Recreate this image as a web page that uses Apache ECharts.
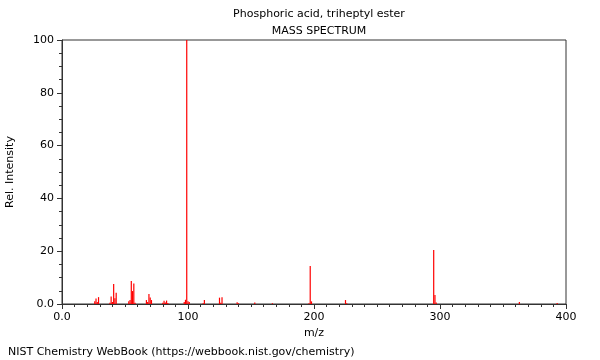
<!DOCTYPE html>
<html>
<head>
<meta charset="utf-8">
<script src="https://cdn.jsdelivr.net/npm/echarts@6/dist/echarts.min.js"></script>
<style>html,body{margin:0;padding:0;background:#fff}#c{width:600px;height:360px}</style>
</head>
<body>
<div id="c"></div>
<script>
const titleText = "Phosphoric acid, triheptyl ester";
const subtitleText = "MASS SPECTRUM";
const footerText = "NIST Chemistry WebBook (https://webbook.nist.gov/chemistry)";
const xName = "m/z";
const yName = "Rel. Intensity";
const mz = [26,27,28,29,38,39,40,41,42,43,53,54,55,56,57,58,67,68,69,70,71,80,81,82,83,84,97,98,99,100,101,112,113,125,126,127,139,140,153,167,196,197,198,225,226,295,296,297,363,393];
const intensity = [1.0,2.1,0.8,2.6,0.5,2.8,0.8,7.6,2.2,4.3,1.0,1.5,8.7,4.9,7.8,0.5,1.5,0.8,3.8,2.5,1.5,0.5,1.2,0.6,1.3,0.4,0.8,1.6,100,1.0,0.8,0.3,1.5,2.4,0.5,2.6,0.7,0.3,0.6,0.3,0.3,14.4,1.0,1.5,0.3,20.5,3.4,0.6,0.8,0.4];

const chart = echarts.init(document.getElementById('c'), null, {renderer:'canvas'});
const font = 'DejaVu Sans';
const axisCol = '#333';
chart.setOption({
  animation:false,
  textStyle:{fontFamily:font},
  title:[
    {text:titleText, left:314, top:4, textAlign:'center', textStyle:{fontSize:11, fontWeight:'normal', color:'#000', fontFamily:font}},
    {text:subtitleText, left:314, top:21, textAlign:'center', textStyle:{fontSize:11, fontWeight:'normal', color:'#000', fontFamily:font}},
    {text:footerText, left:3, top:342, textStyle:{fontSize:11, fontWeight:'normal', color:'#000', fontFamily:font}}
  ],
  grid:{left:62, right:34, top:40, bottom:56, outerBoundsMode:'none', containLabel:false, show:true, borderColor:axisCol, borderWidth:1, backgroundColor:'transparent'},
  xAxis:{type:'value', min:0, max:400, interval:100, name:xName, nameLocation:'middle', nameGap:23,
    nameTextStyle:{fontSize:11, color:'#000', fontFamily:font},
    axisLine:{show:true, onZero:false, lineStyle:{color:axisCol}},
    axisTick:{show:true, inside:false, length:5, lineStyle:{color:axisCol}},
    minorTick:{show:true, splitNumber:10, length:3, lineStyle:{color:axisCol}},
    splitLine:{show:false},
    axisLabel:{fontSize:11, color:'#000', margin:8, formatter:v=> v===0 ? '0.0' : String(v)}
  },
  yAxis:{type:'value', min:0, max:100, interval:20, name:yName, nameLocation:'middle', nameGap:46, nameRotate:90,
    nameTextStyle:{fontSize:11, color:'#000', fontFamily:font},
    axisLine:{show:true, onZero:false, lineStyle:{color:axisCol}},
    axisTick:{show:true, inside:false, length:5, lineStyle:{color:axisCol}},
    minorTick:{show:true, splitNumber:4, length:3, lineStyle:{color:axisCol}},
    splitLine:{show:false},
    axisLabel:{fontSize:11, color:'#000', margin:8, formatter:v=> v===0 ? '0.0' : String(v)}
  },
  series:[{
    type:'custom',
    clip:false,
    silent:true,
    emphasis:{disabled:true},
    data: mz.map((m,i)=>[m,intensity[i]]),
    renderItem:function(params, api){
      const p0 = api.coord([api.value(0), 0]);
      const p1 = api.coord([api.value(0), api.value(1)]);
      return {type:'line', shape:{x1:p0[0], y1:p0[1], x2:p0[0], y2:p1[1]}, style:{stroke:'#ff0000', lineWidth:1.2}};
    }
  }]
});
</script>
</body>
</html>
